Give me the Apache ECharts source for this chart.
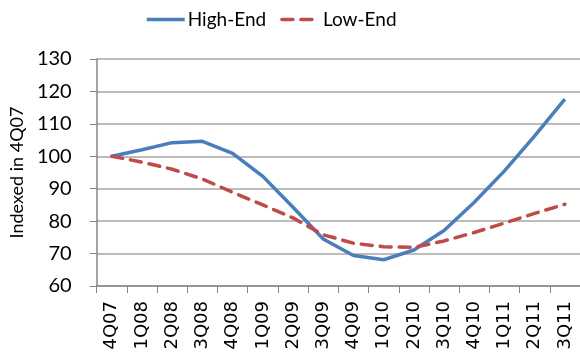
<!DOCTYPE html>
<html>
<head>
<meta charset="utf-8">
<script src="https://cdn.jsdelivr.net/npm/echarts@6/dist/echarts.min.js"></script>
<style>html,body{margin:0;padding:0;background:#fff}#c{width:580px;height:355px}</style>
</head>
<body>
<div id="c"></div>
<script>
const categories = ['4Q07','1Q08','2Q08','3Q08','4Q08','1Q09','2Q09','3Q09','4Q09','1Q10','2Q10','3Q10','4Q10','1Q11','2Q11','3Q11'];
const highEnd = [100, 102, 104.2, 104.6, 100.9, 93.8, 84.3, 74.5, 69.4, 68.1, 71.1, 77.1, 85.8, 95.5, 106.3, 117.6];
const lowEnd  = [100, 98.2, 96, 93, 88.9, 85, 81, 75.8, 73.2, 72.1, 71.9, 73.9, 76.5, 79.4, 82.4, 85.2];
const yTicks = { min: 60, max: 130, interval: 10 };

const chart = echarts.init(document.getElementById('c'), null, { renderer: 'canvas' });
const font = 'Lato, "Open Sans", sans-serif';
chart.setOption({
  animation: false,
  backgroundColor: '#fff',
  legend: {
    top: 5, left: 140,
    itemWidth: 38, itemHeight: 14, itemGap: 14,
    itemStyle: { opacity: 0 },
    lineStyle: { width: 3.5 },
    textStyle: { fontFamily: font, fontSize: 19, color: '#000', padding: [0, 0, 0, -2] },
    data: ['High-End', 'Low-End']
  },
  grid: { left: 96, right: 0, top: 59, bottom: 69 },
  xAxis: {
    type: 'category', data: categories, boundaryGap: true,
    axisLine: { lineStyle: { color: '#868686', width: 1.5 } },
    axisTick: { show: true, length: 7, lineStyle: { color: '#868686' } },
    axisLabel: { rotate: 90, fontFamily: '"DejaVu Sans", sans-serif', fontSize: 18, color: '#000', margin: 15, interval: 0 }
  },
  yAxis: {
    type: 'value', min: yTicks.min, max: yTicks.max, interval: yTicks.interval,
    name: 'Indexed in 4Q07', nameLocation: 'middle', nameGap: 66,
    nameTextStyle: { fontFamily: font, fontSize: 18, color: '#000' },
    axisLine: { show: true, lineStyle: { color: '#868686', width: 1.5 } },
    axisTick: { show: true, length: 7, lineStyle: { color: '#868686' } },
    axisLabel: { fontFamily: font, fontSize: 20, color: '#000', margin: 25 },
    splitLine: { lineStyle: { color: '#a6a6a6', width: 1.5 } }
  },
  series: [
    { name: 'High-End', type: 'line', data: highEnd, symbol: 'none',
      lineStyle: { color: '#4a7ebb', width: 3.5 }, itemStyle: { color: '#4a7ebb' } },
    { name: 'Low-End', type: 'line', data: lowEnd, symbol: 'none',
      lineStyle: { color: '#be4b48', width: 3.5, type: [11, 8], cap: 'round' }, itemStyle: { color: '#be4b48' } }
  ]
});
</script>
</body>
</html>
